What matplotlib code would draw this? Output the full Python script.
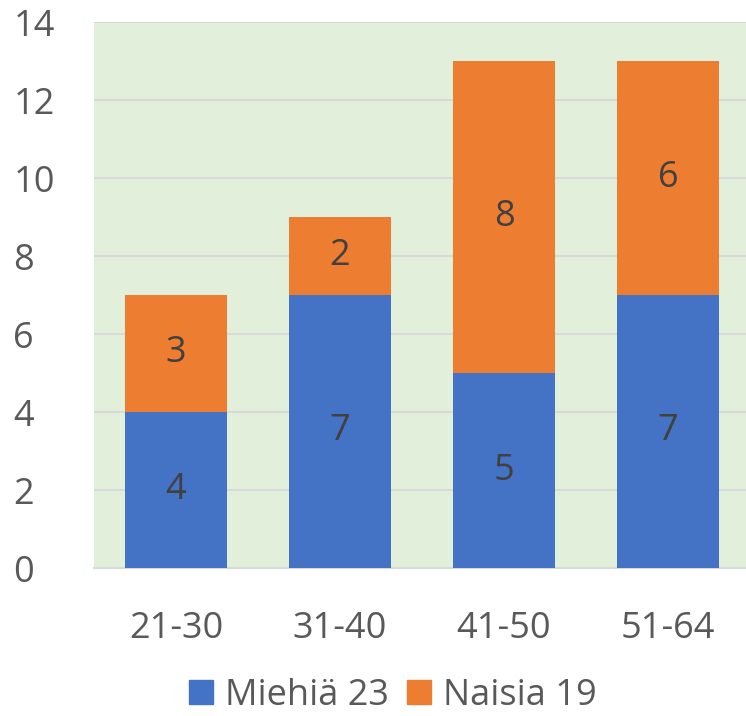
import numpy as np
import matplotlib.pyplot as plt
from matplotlib.patches import Patch

categories = ["21-30", "31-40", "41-50", "51-64"]
miehia = [4, 7, 5, 7]
naisia = [3, 2, 8, 6]
labels = ["Miehiä 23", "Naisia 19"]

blue = "#4472C4"
orange = "#ED7D31"

plt.rcParams['font.family'] = ['Open Sans', 'DejaVu Sans']

fig = plt.figure(figsize=(7.46, 7.16), dpi=100)
ax = fig.add_axes([94/746, 148/716, 656/746, 546/716])
ax.set_facecolor("#E2EFDA")

x = np.arange(len(categories))
w = 0.62
b1 = ax.bar(x, miehia, w, color=blue, zorder=3)
b2 = ax.bar(x, naisia, w, bottom=miehia, color=orange, zorder=3)
ax.bar_label(b1, label_type='center', fontsize=26, color="#404040")
ax.bar_label(b2, label_type='center', fontsize=26, color="#404040")

ax.set_xlim(-0.5, 3.5)
ax.set_ylim(0, 14)
ax.set_yticks(range(0, 15, 2))
ax.set_xticks(x)
ax.set_xticklabels(categories)
ax.grid(axis='y', color="#D9D9D9", linewidth=1.5, zorder=0)
for s in ['top', 'right', 'left']:
    ax.spines[s].set_visible(False)
ax.spines['bottom'].set_color("#D9D9D9")
ax.spines['bottom'].set_linewidth(1.5)
ax.tick_params(axis='both', length=0, labelsize=26, colors="#595959")
ax.tick_params(axis='x', pad=31)
ax.tick_params(axis='y', pad=58)
for t in ax.get_yticklabels():
    t.set_horizontalalignment('left')

handles = [Patch(color=blue), Patch(color=orange)]
fig.legend(handles, labels, loc='center', bbox_to_anchor=(0.527, 0.028), ncol=2,
           frameon=False, fontsize=26, labelcolor="#595959",
           handlelength=0.65, handleheight=0.65, handletextpad=0.35, columnspacing=0.5)

fig.savefig("out.png", dpi=100)
